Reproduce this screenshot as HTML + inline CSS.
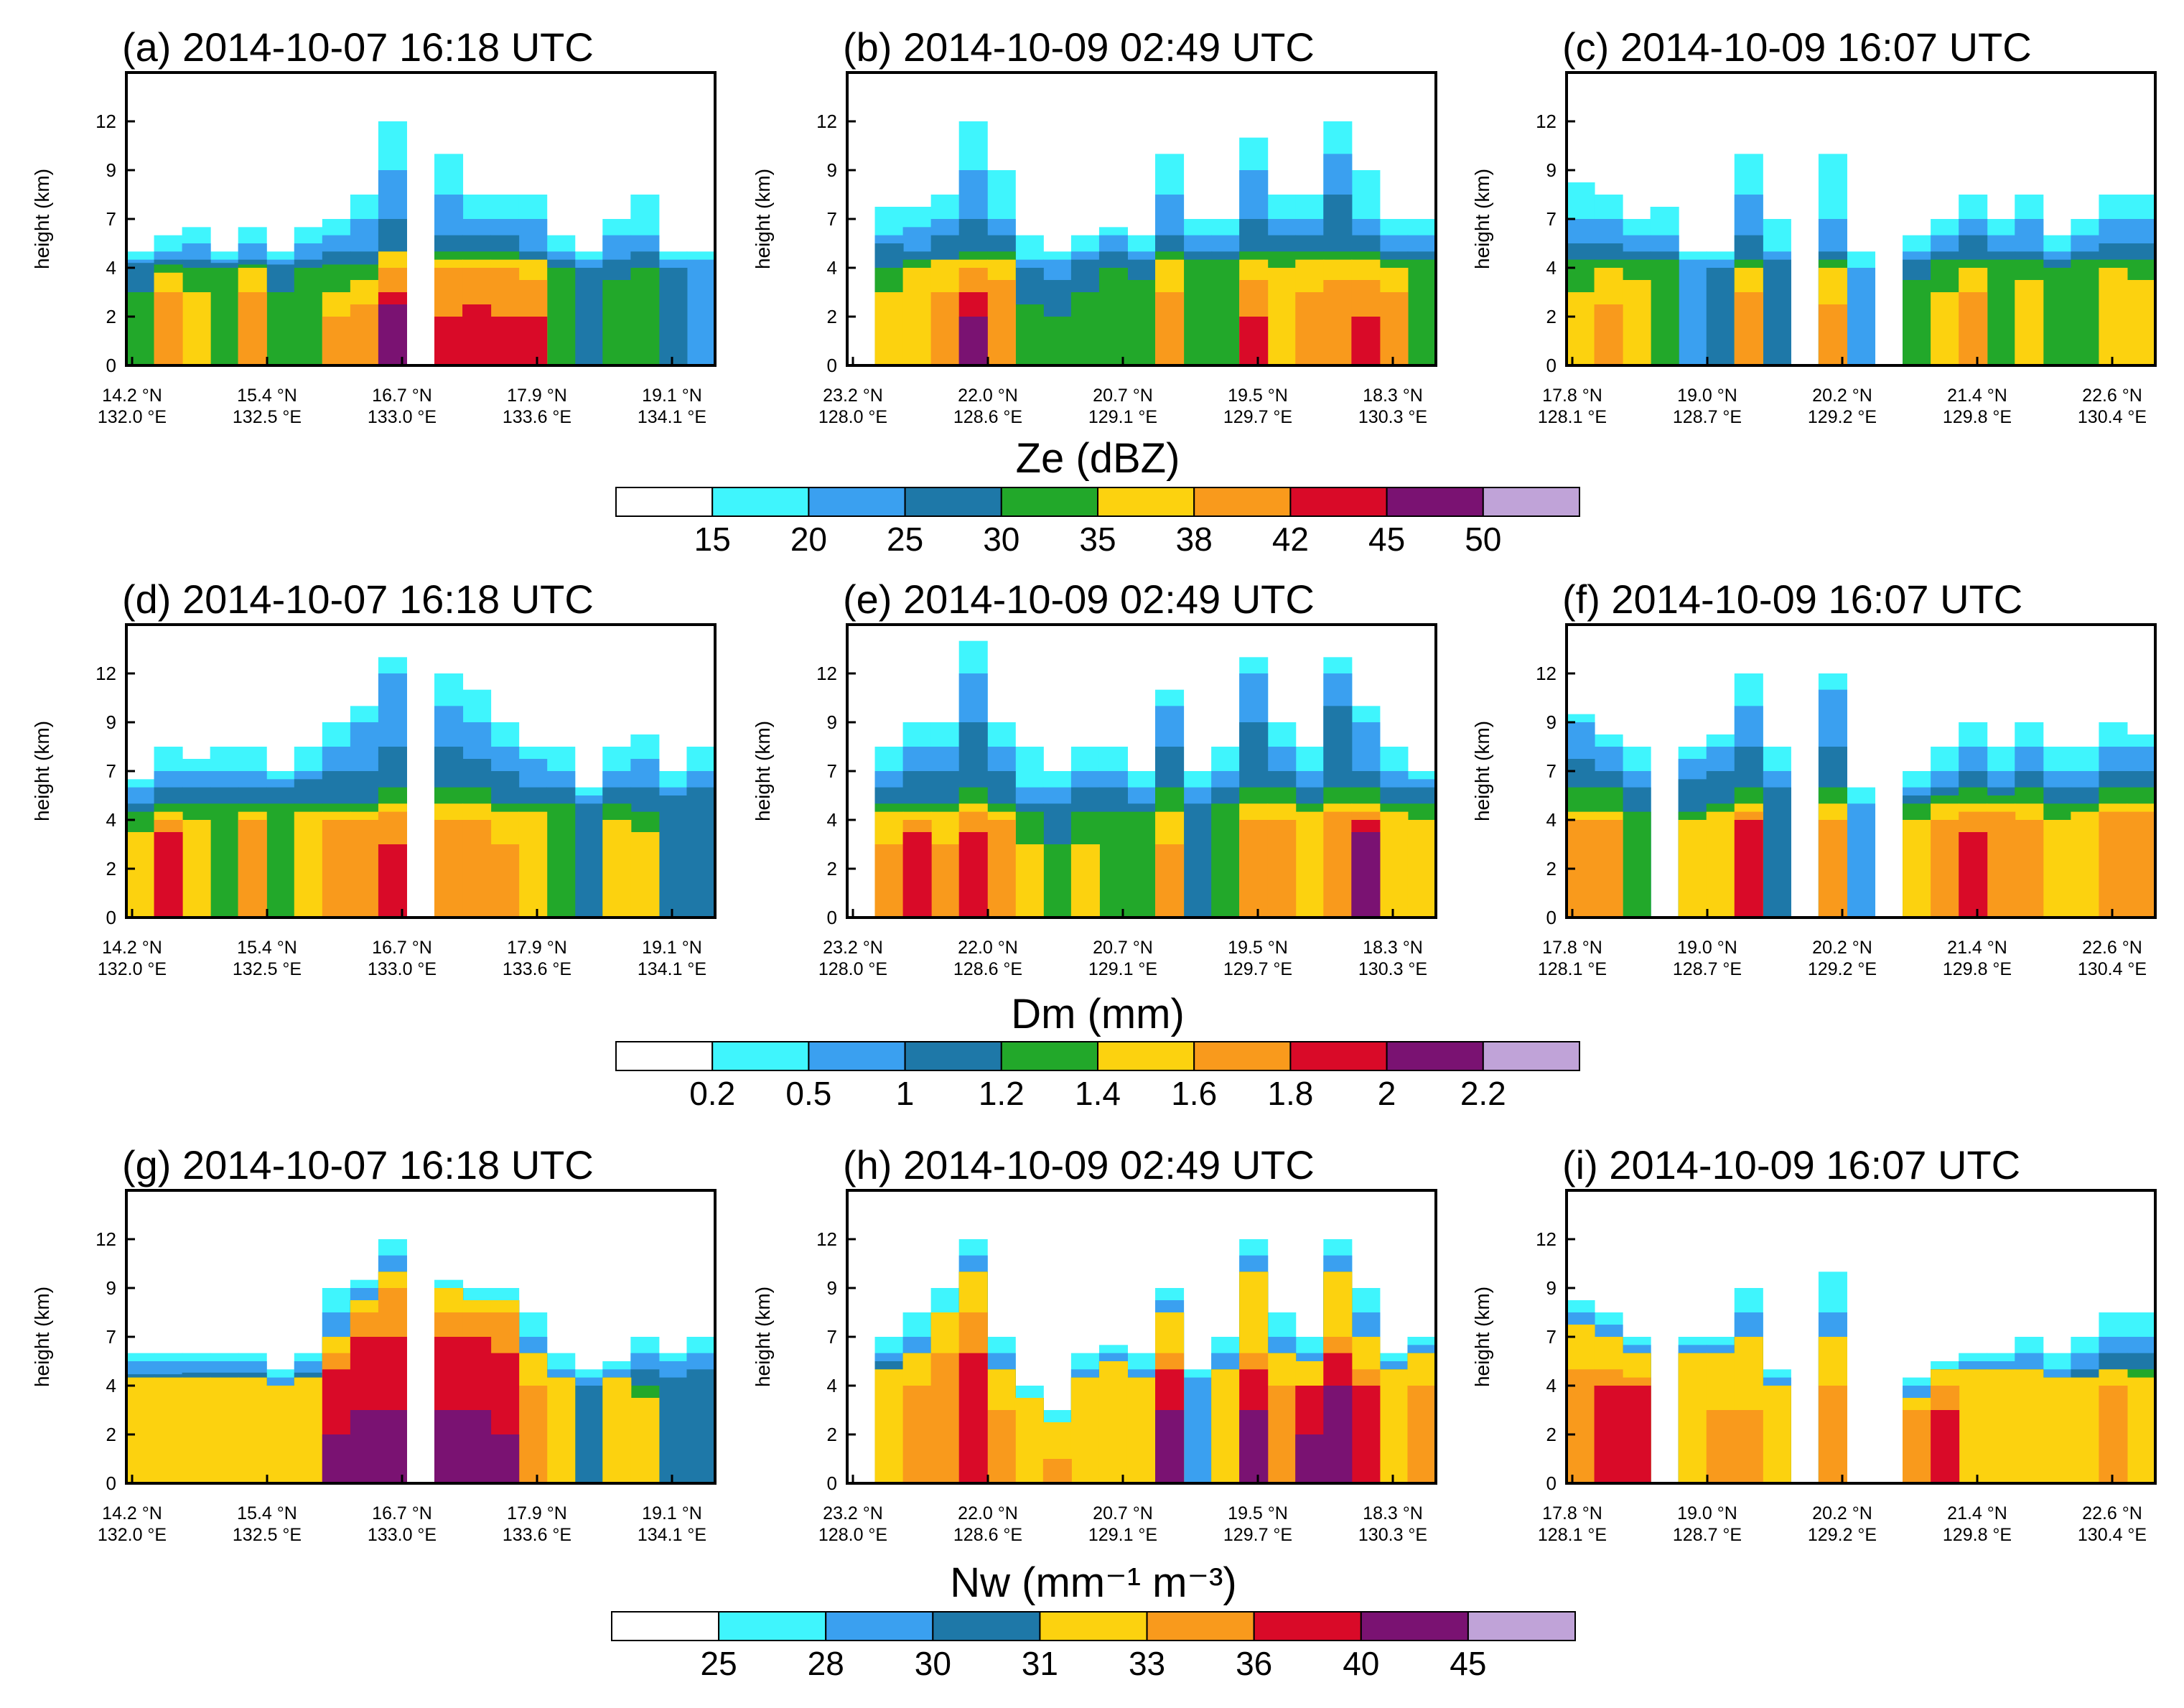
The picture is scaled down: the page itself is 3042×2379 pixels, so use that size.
<!DOCTYPE html>
<html><head><meta charset="utf-8">
<style>
html,body{margin:0;padding:0;background:#fff;}
svg{display:block;font-family:"Liberation Sans",sans-serif;}
</style></head>
<body>
<svg id="fig" width="3042" height="2379" viewBox="0 0 3042 2379" xmlns="http://www.w3.org/2000/svg"></svg>
<script>
// ---- data ----
const levelColors = ["#3ff5fd","#3aa0f0","#1e78a8","#22a82a","#fcd20f","#f99a1c","#d90a28","#7a1272"];
const yTickValues = [0,2,4,7,9,12,15];
const yTickLabels = ["0","2","4","7","9","12"];
const latA = ["14.2 °N","15.4 °N","16.7 °N","17.9 °N","19.1 °N"];
const lonA = ["132.0 °E","132.5 °E","133.0 °E","133.6 °E","134.1 °E"];
const latB = ["23.2 °N","22.0 °N","20.7 °N","19.5 °N","18.3 °N"];
const lonB = ["128.0 °E","128.6 °E","129.1 °E","129.7 °E","130.3 °E"];
const latC = ["17.8 °N","19.0 °N","20.2 °N","21.4 °N","22.6 °N"];
const lonC = ["128.1 °E","128.7 °E","129.2 °E","129.8 °E","130.4 °E"];
const zeLabels = ["15","20","25","30","35","38","42","45","50"];
const dmLabels = ["0.2","0.5","1","1.2","1.4","1.6","1.8","2","2.2"];
const nwLabels = ["25","28","30","31","33","36","40","45"];

const colsA = [[5,4.5,4.3,3],[6,5,4.5,4.2,3.8,3],[6.5,5.5,4.5,4,3],[5,4.5,4.3,4],[6.5,5.5,4.5,4.2,4,3],[5,4.5,4.2,3],[6.5,5.5,4.5,4],[7,6,5,4.2,3,2],[8,7,5,4.2,3.5,2.5],[12,9,7,5,5,4,3,2.5],[0],[10,8,6,5,4.5,4,2],[8,7,6,5,4.5,4,2.5],[8,7,6,5,4.5,4,2],[8,7,5,4.5,4.5,3.5,2],[6,5,4.5,4],[5,4.5,4],[7,6,4.5,3.5],[8,6,5,4],[5,4.5,4],[5,4.5]];
const colsB = [[0],[7.5,6,5.5,4,3],[7.5,6.5,5,4.5,4],[8,7,6,4.5,4.5,3],[12,9,7,5,4.5,4,3,2],[9,7,6,5,4.5,3.5],[6,4.5,4,2.5],[5,4.5,3.5,2],[6,5,4.5,3],[6.5,6,5,4],[6,5,4.5,3.5],[10,8,6,5,4.5,3],[7,6,5,4.5],[7,6,5,4.5],[11,9,7,5,4.5,3.5,2],[8,7,6,5,4],[8,7,6,5,4.5,3],[12,10,8,5,4.5,3.5],[9,7,6,5,4.5,3.5,2],[7,6,5,4.5,4,3],[7,6,5,4.5]];
const colsC = [[8.5,7,5.5,4.5,3],[8,7,5.5,4.5,4,2.5],[7,6,5,4.5,3.5],[7.5,6,5,4.5],[5,4.5],[5,4.5,4],[10,8,6,4.5,4,3],[7,5,4.5],[0],[10,7,5,4.5,4,2.5],[5,4],[0],[6,5,4.5,3.5],[7,6,5,4.5,3],[8,7,6,4.5,4,3],[7,6,5,4.5],[8,7,5,4.5,3.5],[6,5,4.5,4],[7,6,5,4.5],[8,7,5.5,4.5,4],[8,7,5.5,4.5,3.5]];
const colsD = [[6.5,6,5,4.5,3.5],[8,7,6,5,4.5,4,3.5],[7.5,7,6,5,4],[8,7,6,5],[8,7,6,5,4.5,4],[7,6.5,6,5],[8,7,6.5,5,4.5],[9,8,7,5,4.5,4],[10,9,7,5,4.5,4],[13,12,8,6,5,4.5,3],[0],[12,10,8,6,5,4],[11,9,7.5,6,5,4],[9,8,7,5,4.5,3],[8,7.5,6,5,4.5],[8,7,6,5],[6,5.5,5],[8,7,6,5,4],[8.5,7.5,6,4.5,3.5],[7,6,5.5],[8,7,6]];
const colsE = [[0],[8,7,6,5,4.5,3],[9,8,7,5,4.5,4,3.5],[9,8,7,5,4.5,3],[14,12,9,6,5,4.5,3.5],[9,8,7,5,4.5,4],[8,6,5,4.5,3],[7,6,5,3],[8,7,6,4.5,3],[8,7,6,4.5],[7,6,5,4.5],[11,10,8,6,4.5,3],[7,6,5],[8,7,6,5],[13,12,9,6,5,4],[9,8,7,6,5,4],[8,7,6,5,4.5],[13,12,10,6,5,4.5],[10,9,7,6,5,4.5,4,3.5],[8,7,6,5,4.5],[7,6.5,6,5,4]];
const colsF = [[9.5,9,7.5,6,4.5,4],[8.5,8,7,6,4.5,4],[8,7,6,4.5],[0],[8,7.5,6.5,4.5,4],[8.5,8,7,5,4.5],[12,10,8,6,5,4.5,4],[8,7,6],[0],[12,11,8,6,5,4],[6,5],[0],[7,6,5.5,5,4],[8,7,6,5.5,5,4],[9,8,7,6,5,4.5,3.5],[8,7,6,5.5,5,4.5],[9,8,7,6,5,4],[8,7,6,5,4],[8,7,6,5,4.5],[9,8,7,6,5,4.5],[8.5,8,7,6,5,4.5]];
const colsG = [[6,5.5,4.7,4.5,4.5],[6,5.5,4.7,4.5,4.5],[6,5.5,4.8,4.5,4.5],[6,5.5,4.8,4.5,4.5],[6,5.5,4.8,4.5,4.5],[5,4.5,4,4,4],[6,5.5,4.8,4.5,4.5],[9,8,7,7,7,6,5,2],[9.5,9,8.5,8.5,8.5,8,7,3],[12,11,10,10,10,9,7,3],[0],[9.5,9,9,9,9,8,7,3],[9,8.5,8.5,8.5,8.5,8,7,3],[9,8.5,8.5,8.5,8.5,8,6,2],[8,7,6,6,6,4],[6,5,4.5,4.5,4.5],[5,4.5,4],[5.5,5,4.5,4.5,4.5],[7,6,5,4,3.5],[6,5.5,4.5],[7,6,5]];
const colsH = [[0],[7,6,5.5,5,5],[8,7,6,6,6,4],[9,8,8,8,8,6],[12,11,10,10,10,8,6],[7,6,5,5,5,3],[4,3.5,3.5,3.5,3.5],[3,2.5,2.5,2.5,2.5,1],[6,5,4.5,4.5,4.5],[6.5,6,5.5,5.5,5.5],[6,5,4.5,4.5,4.5],[9,8.5,8,8,8,6,5,3],[5,4.5],[7,6,5,5,5],[12,11,10,10,10,6,5,3],[8,7,6,6,6,4],[7,6,5.5,5.5,5.5,4,4,2],[12,11,10,10,10,7,6,4],[9,8,7,7,7,5,4],[6,5.5,5,5,5],[7,6.5,6,6,6,4]];
const colsI = [[8.5,8,7.5,7.5,7.5,5],[8,7.5,7,7,7,5,4],[7,6.5,6,6,6,4.5,4],[0],[7,6.5,6,6,6],[7,6.5,6,6,6,3],[9,8,7,7,7,3],[5,4.5,4,4,4],[0],[10,8,7,7,7,4],[0],[0],[4.5,4,3.5,3.5,3.5,3],[5.5,5,5,5,5,4,3],[6,5.5,5,5,5],[6,5.5,5,5,5],[7,6,5,5,5],[6,5,4.5,4.5,4.5],[7,6,5,4.5,4.5],[8,7,6,5,5,4],[8,7,6,5,4.5]];

// ---- layout ----
const NS="http://www.w3.org/2000/svg";
const svg=document.getElementById('fig');
function mk(tag,attrs,parent){const e=document.createElementNS(NS,tag);for(const k in attrs)e.setAttribute(k,attrs[k]);(parent||svg).appendChild(e);return e;}
const colLeft=[176,1180,2182], plotW=820, rowTop=[101,870,1658], plotH=408;
const titles=[["(a) 2014-10-07 16:18 UTC","(b) 2014-10-09 02:49 UTC","(c) 2014-10-09 16:07 UTC"],["(d) 2014-10-07 16:18 UTC","(e) 2014-10-09 02:49 UTC","(f) 2014-10-09 16:07 UTC"],["(g) 2014-10-07 16:18 UTC","(h) 2014-10-09 02:49 UTC","(i) 2014-10-09 16:07 UTC"]];
const data=[[colsA,colsB,colsC],[colsD,colsE,colsF],[colsG,colsH,colsI]];
const lats=[latA,latB,latC], lons=[lonA,lonB,lonC];

function yScale(v,top){
  let i=0; while(i<yTickValues.length-2 && v>yTickValues[i+1]) i++;
  const f=i+(v-yTickValues[i])/(yTickValues[i+1]-yTickValues[i]);
  return top+plotH - f*(plotH/6);
}
for(let r=0;r<3;r++)for(let c=0;c<3;c++){
  const L=colLeft[c], T=rowTop[r], cols=data[r][c];
  const g=mk('g',{});
  
  
  const bw=plotW/cols.length;
  const xScale=i=>L+i*bw;
  for(let lv=0;lv<levelColors.length;lv++){
    cols.forEach((col,i)=>{
      const h=col[lv]||0; if(h<=0) return;
      const y=yScale(h,T);
      const rc=mk('rect',{x:xScale(i)-0.5,y:y,width:bw+1,height:T+plotH-y,fill:levelColors[lv]},g);
      
      
    });
  }
  const fr=mk('rect',{x:L,y:T,width:plotW,height:plotH,fill:'none',stroke:'#000','stroke-width':4},g);
  
  
  const tt=mk('text',{x:L-6,y:T-16,'font-size':56},g); tt.textContent=titles[r][c];
  
  
  yTickLabels.forEach((lab,i)=>{
    const y=yScale(yTickValues[i],T);
    mk('line',{x1:L,x2:L+12,y1:y,y2:y,stroke:'#000','stroke-width':3},g);
    const t=mk('text',{x:L-14,y:y+9,'font-size':26,'text-anchor':'end'},g); t.textContent=lab;
    
    
  });
  const yt=mk('text',{x:0,y:0,'font-size':28,'text-anchor':'middle',transform:`translate(${L-108},${T+plotH/2}) rotate(-90)`},g);
  yt.textContent='height (km)';
  
  
  for(let i=0;i<5;i++){
    const x=L+8+i*188;
    mk('line',{x1:x,x2:x,y1:T+plotH,y2:T+plotH-12,stroke:'#000','stroke-width':3},g);
    const t1=mk('text',{x:x,y:T+plotH+50,'font-size':25,'text-anchor':'middle'},g); t1.textContent=lats[c][i];
    
    
    const t2=mk('text',{x:x,y:T+plotH+80,'font-size':25,'text-anchor':'middle'},g); t2.textContent=lons[c][i];
    
    
  }
}
const cbs=[{x:858,w:1342,y:679,title:'Ze (dBZ)',ty:658,labels:zeLabels},
           {x:858,w:1342,y:1451,title:'Dm (mm)',ty:1432,labels:dmLabels},
           {x:852,w:1342,y:2245,title:'Nw (mm⁻¹ m⁻³)',ty:2224,labels:nwLabels}];
const cbColors=["#ffffff"].concat(levelColors).concat(["#c0a3d8"]);
cbs.forEach((cb,k)=>{
  const g=mk('g',{});
  
  
  const cols=k===2?["#ffffff","#3ff5fd","#3aa0f0","#1e78a8","#fcd20f","#f99a1c","#d90a28","#7a1272","#c0a3d8"]:cbColors;
  const bw=cb.w/cols.length;
  cols.forEach((col,i)=>{
    const r=mk('rect',{x:cb.x+i*bw,y:cb.y,width:bw,height:40,fill:col,stroke:'#000','stroke-width':2},g);
    
    
  });
  cb.labels.forEach((lab,i)=>{
    const t=mk('text',{x:cb.x+(i+1)*bw,y:cb.y+88,'font-size':46,'text-anchor':'middle'},g); t.textContent=lab;
    
    
  });
  const t=mk('text',{x:cb.x+cb.w/2,y:cb.ty,'font-size':58,'text-anchor':'middle'},g); t.textContent=cb.title;
  
  
});
</script>
</body></html>
